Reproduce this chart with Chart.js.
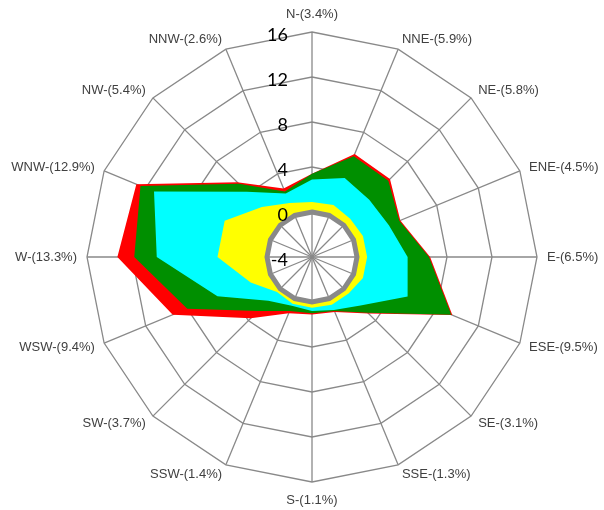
<!DOCTYPE html>
<html>
<head>
<meta charset="utf-8">
<script src="https://cdn.jsdelivr.net/npm/chart.js@4"></script>
<style>
  html, body { margin: 0; padding: 0; background: #fff; }
  #wrap { width: 604px; height: 510px; }
</style>
</head>
<body>
<div id="wrap"><canvas id="myChart"></canvas></div>
<script>
// data
const directions = ["N-(3.4%)", "NNE-(5.9%)", "NE-(5.8%)", "ENE-(4.5%)", "E-(6.5%)", "ESE-(9.5%)",
  "SE-(3.1%)", "SSE-(1.3%)", "S-(1.1%)", "SSW-(1.4%)", "SW-(3.7%)", "WSW-(9.4%)",
  "W-(13.3%)", "WNW-(12.9%)", "NW-(5.4%)", "NNW-(2.6%)"];

// cumulative values, innermost first
const yellowValues = [0.9, 1.0, 0.8, 0.9, 0.9, 0.9, 0.6, 0.6, 0.5, 0.5, 0.4, 1.9, 4.4, 4.4, 2.3, 1.2];
const cyanValues   = [2.9, 3.6, 3.2, 3.4, 4.5, 5.2, 2.1, 1.1, 0.8, 0.7, 1.5, 5.1, 9.8, 11.2, 4.2, 2.1];
const greenValues  = [3.4, 5.7, 5.6, 4.4, 6.4, 9.4, 3.0, 1.2, 1.0, 1.2, 2.8, 8.0, 11.8, 12.5, 5.2, 2.3];
const redValues    = [3.4, 5.9, 5.8, 4.5, 6.5, 9.5, 3.1, 1.3, 1.1, 1.4, 3.7, 9.4, 13.3, 12.9, 5.4, 2.6];

const tickMin = -4;
const tickMax = 16;
const tickStep = 4;

const gridGray = "#898989";

// heavy zero ring, value labels left of the N spoke, direction labels round the rim
const labelPlugin = {
  id: "labelPlugin",
  afterDraw(chart) {
    const s = chart.scales.r;
    const c = chart.ctx;
    c.save();
    c.strokeStyle = gridGray;
    c.lineWidth = 5;
    c.lineJoin = "miter";
    c.beginPath();
    directions.forEach((lab, i) => {
      const p = s.getPointPositionForValue(i, 0);
      if (i === 0) c.moveTo(p.x, p.y);
      else c.lineTo(p.x, p.y);
    });
    c.closePath();
    c.stroke();

    c.font = "18px Lato";
    c.fillStyle = "#000";
    c.textAlign = "right";
    c.textBaseline = "middle";
    s.ticks.forEach((t) => {
      const d = s.getDistanceFromCenterForValue(t.value);
      c.fillText(String(t.value), s.xCenter - 24, s.yCenter - d + 3);
    });

    c.font = '13px "Liberation Sans"';
    c.fillStyle = "#404040";
    directions.forEach((lab, i) => {
      const p = s.getPointPosition(i, s.drawingArea + 10);
      const a = p.angle + Math.PI / 2;
      const sx = Math.sin(a), cy = Math.cos(a);
      let y = p.y;
      if (Math.abs(sx) < 0.01) {
        c.textAlign = "center";
        y -= cy * 8;
      } else {
        c.textAlign = sx > 0 ? "left" : "right";
      }
      c.fillText(lab, p.x, y);
    });
    c.restore();
  },
};

let ctx = document.getElementById("myChart").getContext("2d");
let chart = new Chart(ctx, {
  type: "radar",
  data: {
    labels: directions,
    datasets: [
      { data: yellowValues, backgroundColor: "#ffff00" },
      { data: cyanValues, backgroundColor: "#00ffff" },
      { data: greenValues, backgroundColor: "#008f00" },
      { data: redValues, backgroundColor: "#ff0000" },
    ].map((d) => Object.assign(d, { fill: "origin", borderWidth: 0, pointRadius: 0, pointHoverRadius: 0 })),
  },
  options: {
    responsive: true,
    maintainAspectRatio: false,
    animation: false,
    layout: { padding: { top: 32, bottom: 27, left: 20, right: 0 } },
    plugins: {
      legend: { display: false },
      tooltip: { enabled: false },
    },
    scales: {
      r: {
        z: 1,
        min: tickMin,
        max: tickMax,
        ticks: { stepSize: tickStep, display: false },
        grid: { color: gridGray, lineWidth: 1.3 },
        angleLines: { color: gridGray, lineWidth: 1.3 },
        pointLabels: { display: false },
      },
    },
  },
  plugins: [labelPlugin],
});
</script>
</body>
</html>
